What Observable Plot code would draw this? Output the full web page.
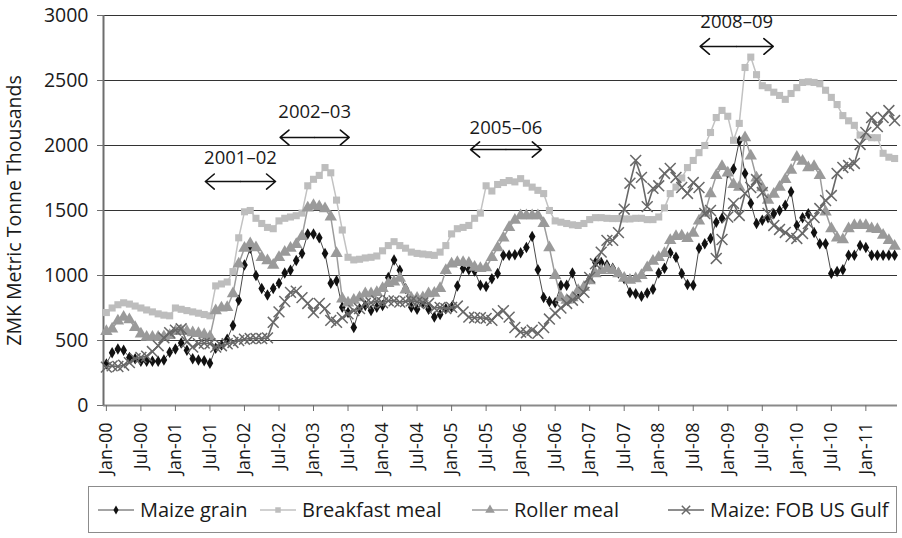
<!DOCTYPE html>
<html><head><meta charset="utf-8">
<script src="https://cdn.jsdelivr.net/npm/d3@7"></script>
<script src="https://cdn.jsdelivr.net/npm/@observablehq/plot@0.6"></script>
<style>
body{margin:0;background:#fff;font-family:"Open Sans",sans-serif;}
#chart{position:relative;width:902px;height:538px;overflow:hidden;}
#chart svg.plot{position:absolute;left:0;top:0;}
.legend{position:absolute;left:88px;top:486px;width:809px;height:47px;border:1px solid #8c8c8c;box-sizing:border-box;font-size:20px;color:#1a1a1a;}
.item{position:absolute;top:0;height:45px;display:flex;align-items:center;white-space:nowrap;}
.item svg{margin-right:5px;}
</style></head><body><div id="chart"></div>
<script>
// Month/year tick labels
const monthNames = ["Jan","Feb","Mar","Apr","May","Jun","Jul","Aug","Sep","Oct","Nov","Dec"];
const yearLabels = ["00","01","02","03","04","05","06","07","08","09","10","11"];
const monthLabels = [];
for (const y of yearLabels) for (const m of monthNames) monthLabels.push(m + "-" + y);
const nMonths = 138; // Jan-00 .. Jun-11

// Series (ZMK per metric tonne, thousands), monthly Jan-00 .. Jun-11
const maizeGrain = [
 320,405,435,425,370,360,340,340,340,340,350,410,
 435,480,425,360,350,345,325,440,465,510,615,810,
 1080,1210,1000,900,850,900,940,1020,1040,1115,1170,1320,
 1320,1290,1170,940,960,755,715,600,745,770,730,755,
 770,985,1120,1040,900,755,740,790,740,680,700,745,
 755,920,1055,1045,1035,925,915,975,1015,1155,1155,1160,
 1175,1215,1300,1045,830,800,790,925,925,1020,880,910,
 975,1100,1100,1080,1055,1020,975,870,860,840,865,895,
 1020,1055,1175,1140,1015,930,925,1210,1245,1285,1410,1440,
 1790,1820,2035,1785,1555,1400,1425,1445,1475,1500,1540,1645,
 1385,1445,1475,1330,1245,1245,1015,1030,1045,1155,1155,1230,
 1215,1155,1155,1155,1155,1155];
const breakfastMeal = [
 715,750,775,790,780,765,750,735,720,705,695,690,
 750,740,730,720,710,700,690,920,935,950,1030,1290,
 1490,1500,1440,1400,1370,1360,1420,1440,1450,1460,1480,1690,
 1740,1770,1830,1790,1580,1350,1140,1120,1125,1135,1140,1150,
 1190,1230,1260,1230,1210,1180,1170,1165,1160,1155,1180,1230,
 1320,1360,1370,1385,1440,1480,1690,1650,1700,1715,1730,1720,
 1745,1710,1680,1655,1630,1500,1420,1410,1400,1390,1385,1400,
 1430,1445,1445,1440,1438,1438,1435,1435,1440,1440,1430,1430,
 1450,1520,1630,1680,1750,1830,1885,1945,2000,2100,2215,2270,
 2225,2040,2170,2600,2680,2545,2460,2445,2410,2385,2355,2400,
 2445,2485,2490,2485,2475,2425,2370,2315,2230,2190,2155,2080,
 2070,2060,2060,1940,1910,1900];
const rollerMeal = [
 570,590,650,680,660,600,550,525,525,525,530,540,
 570,575,570,560,555,545,530,730,750,755,860,1090,
 1210,1245,1215,1140,1115,1080,1140,1180,1210,1240,1300,1520,
 1540,1530,1515,1450,1170,820,790,810,830,860,860,870,
 900,940,950,980,890,825,825,830,860,865,900,1040,
 1090,1100,1100,1095,1065,1055,1060,1140,1215,1290,1370,1425,
 1460,1460,1460,1460,1400,1215,1000,830,810,830,885,910,
 960,1015,1040,1055,1040,1015,980,965,975,1000,1060,1110,
 1140,1170,1270,1300,1305,1285,1325,1420,1480,1630,1770,1840,
 1790,1700,1680,2060,1920,1750,1675,1580,1625,1680,1740,1810,
 1910,1880,1830,1840,1770,1490,1360,1290,1275,1360,1385,1385,
 1385,1360,1355,1310,1270,1225];
const fobUSGulf = [
 295,305,300,310,330,360,370,380,415,460,520,560,
 580,590,490,450,475,480,475,450,460,475,485,500,
 510,515,515,515,520,640,720,800,870,880,830,785,
 715,785,745,655,640,675,705,730,745,785,790,805,
 790,805,805,795,800,805,795,790,785,750,755,745,
 755,765,720,680,675,675,670,655,705,730,680,600,
 565,560,580,555,600,665,710,750,785,810,830,870,
 985,1090,1180,1270,1270,1330,1510,1710,1885,1755,1530,1670,
 1690,1785,1823,1754,1677,1631,1715,1677,1477,1500,1131,1277,
 1450,1554,1462,1631,1677,1738,1638,1477,1385,1354,1331,1300,
 1285,1323,1400,1446,1515,1577,1615,1785,1831,1846,1862,2008,
 2100,2215,2146,2215,2269,2192];

const seriesNames = ["Maize grain","Breakfast meal","Roller meal","Maize: FOB US Gulf"];
const yTicks = [0,500,1000,1500,2000,2500,3000];
const yLabel = "ZMK Metric Tonne Thousands";

// Marketing-season annotations (month index start/end, arrow level, label level)
const periodLabels = ["2001\u201302","2002\u201303","2005\u201306","2008\u201309"];
const periodStart = [17.2, 30.2, 63.3, 103.2];
const periodEnd = [29.4, 42.2, 75.6, 115.9];
const periodArrowY = [1723, 2062, 1969, 2762];
const periodLabelY = [1900, 2254, 2131, 2946];

const styles = [
  {line:"#4a4a4a", lw:1, symbol:"diamond", r:3.5, fill:"#111", stroke:"none", sw:0},
  {line:"#c2c2c2", lw:1.5, symbol:"square", r:4, fill:"#bdbdbd", stroke:"none", sw:0},
  {line:"#9c9c9c", lw:1.5, symbol:"triangle", r:4.6, fill:"#9a9a9a", stroke:"none", sw:0},
  {line:"#686868", lw:1.6, symbol:"times", r:5, fill:"none", stroke:"#686868", sw:1.5}
];
const allSeries = [maizeGrain, breakfastMeal, rollerMeal, fobUSGulf];
const tables = allSeries.map(arr => arr.slice(0, nMonths).map((v, i) => ({i, v})));

const periods = periodLabels.map((label, k) => ({label, s: periodStart[k], e: periodEnd[k], m: (periodStart[k] + periodEnd[k]) / 2, ya: periodArrowY[k], yl: periodLabelY[k]}));
const arrowSegs = periods.flatMap(p => [{x1: p.m, x2: p.s, y: p.ya}, {x1: p.m, x2: p.e, y: p.ya}]);

const marks = [
  Plot.ruleY(yTicks.filter(d => d > 0), {stroke: "#333", strokeWidth: 1}),
  Plot.ruleY([0], {stroke: "#8a8a8a", strokeWidth: 2}),
  Plot.ruleX([-0.5], {stroke: "#6e6e6e", strokeWidth: 2}),
  Plot.axisY({ticks: yTicks, tickFormat: d => String(d), tickSize: 6, tickPadding: 9, fontSize: 19.5, label: null, stroke: "#6e6e6e"}),
  Plot.axisX({ticks: d3.range(0, nMonths, 6), tickFormat: i => monthLabels[i], tickRotate: -90, tickSize: 6, tickPadding: 11, fontSize: 18, label: null, stroke: "#6e6e6e"}),
  Plot.text([yLabel], {frameAnchor: "left", textAnchor: "middle", rotate: -90, dx: -89, fontSize: 19.5, fill: "#1a1a1a"})
];
tables.forEach((t, k) => {
  const s = styles[k];
  marks.push(Plot.line(t, {x: "i", y: "v", stroke: s.line, strokeWidth: s.lw}));
  marks.push(Plot.dot(t, {x: "i", y: "v", symbol: s.symbol, r: s.r, fill: s.fill, stroke: s.stroke, strokeWidth: s.sw}));
});
marks.push(Plot.arrow(arrowSegs, {x1: "x1", x2: "x2", y1: "y", y2: "y", stroke: "#111", strokeWidth: 1.6, headLength: 12, headAngle: 80}));
marks.push(Plot.text(periods, {x: "m", y: "yl", text: "label", fontSize: 18.5, fill: "#1a1a1a"}));

const plot = Plot.plot({
  width: 902, height: 480,
  marginLeft: 103, marginRight: 5, marginTop: 15, marginBottom: 75,
  style: {fontFamily: "'Open Sans', sans-serif", color: "#1a1a1a", background: "#fff"},
  x: {type: "linear", domain: [-0.5, nMonths - 0.5]},
  y: {domain: [0, 3000]},
  marks
});
const chart = document.getElementById("chart");
chart.appendChild(plot);

// Legend
const legend = document.createElement("div");
legend.className = "legend";
const legendX = [8, 170, 382, 578];
seriesNames.forEach((name, k) => {
  const s = styles[k];
  const item = document.createElement("div");
  item.className = "item";
  item.style.left = legendX[k] + "px";
  const sym = d3.symbol(({diamond: d3.symbolDiamond, square: d3.symbolSquare, triangle: d3.symbolTriangle, times: d3.symbolTimes})[s.symbol], Math.PI * s.r * s.r * 0.6)();
  item.innerHTML = `<svg width="38" height="14"><line x1="1" x2="37" y1="7" y2="7" stroke="${s.line}" stroke-width="${s.lw}"/><path transform="translate(19,7)" d="${sym}" fill="${s.fill}" stroke="${s.stroke}" stroke-width="${s.sw}"/></svg><span>${name}</span>`;
  legend.appendChild(item);
});
chart.appendChild(legend);
</script></body></html>
